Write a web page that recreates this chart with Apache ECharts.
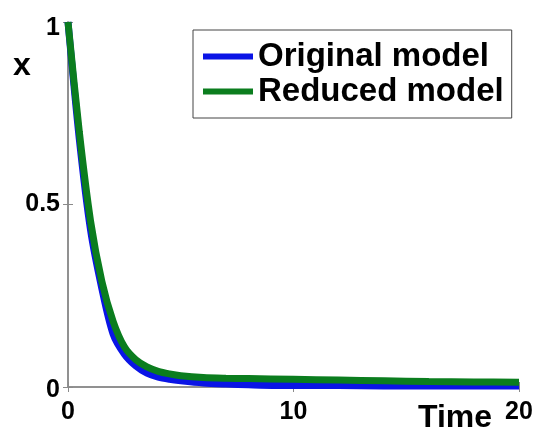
<!DOCTYPE html>
<html>
<head>
<meta charset="utf-8">
<script src="https://cdn.jsdelivr.net/npm/echarts@6/dist/echarts.min.js"></script>
<style>
  html, body { margin: 0; padding: 0; background: #fff; }
  #chart { width: 540px; height: 434px; }
</style>
</head>
<body>
<div id="chart"></div>
<script>
// x(t) 衰减曲线 - 原模型 vs 降阶模型

const time =      [0, 0.5, 1, 1.5, 2, 2.5, 3, 3.5, 4, 4.5, 5, 6, 7, 8, 10, 12, 14, 16, 18, 20];
const originalX = [1.0, 0.68, 0.43, 0.27, 0.145, 0.09, 0.058, 0.038, 0.027, 0.021, 0.017, 0.011, 0.008, 0.006, 0.004, 0.004, 0.003, 0.003, 0.003, 0.003];
const reducedX =  [1.0, 0.70, 0.455, 0.29, 0.18, 0.11, 0.075, 0.055, 0.043, 0.036, 0.031, 0.026, 0.024, 0.023, 0.021, 0.019, 0.017, 0.015, 0.014, 0.013];
const xTicks = [0, 10, 20];
const yTicks = [0, 0.5, 1];

const FONT = 'Liberation Sans, Arial, sans-serif';
const AXIS_GRAY = '#8a8a8a';

const chart = echarts.init(document.getElementById('chart'));

const pairs = arr => time.map((t, i) => [t, arr[i]]);

const tickText = { color: '#000', fontFamily: FONT, fontWeight: 'bold', fontSize: 25 };

chart.setOption({
  animation: false,
  grid: { left: 68, top: 22, right: 21, bottom: 42, show: false },
  legend: {
    orient: 'vertical',
    left: 193, top: 30,
    icon: 'rect',
    itemWidth: 50, itemHeight: 6,
    itemGap: 2,
    padding: [10, 8, 10, 10],
    borderColor: '#444', borderWidth: 1,
    backgroundColor: '#fff',
    textStyle: { color: '#000', fontFamily: FONT, fontWeight: 'bold', fontSize: 33 },
    data: ['Original model', 'Reduced model'],
  },
  xAxis: [
    {
      type: 'value', min: 0, max: 20, interval: 10,
      name: 'Time', nameLocation: 'end', nameGap: -101,
      nameTextStyle: { color: '#000', fontFamily: FONT, fontWeight: 'bold', fontSize: 32, align: 'left', verticalAlign: 'top', padding: [15, 0, 0, 0] },
      axisLine: { lineStyle: { color: AXIS_GRAY, width: 1.5 } },
      axisTick: { inside: true, length: 5, lineStyle: { color: AXIS_GRAY } },
      axisLabel: { ...tickText, margin: 13, formatter: v => xTicks.includes(v) ? String(v) : '' },
      splitLine: { show: false },
    },
    {
      type: 'value', min: 0, max: 20, interval: 10, position: 'top',
      axisLine: { show: true, lineStyle: { color: AXIS_GRAY, width: 1.5 } },
      axisTick: { inside: true, length: 5, lineStyle: { color: AXIS_GRAY } },
      axisLabel: { show: false },
      splitLine: { show: false },
    },
  ],
  yAxis: [
    {
      type: 'value', min: 0, max: 1, interval: 0.5,
      name: 'x', nameLocation: 'end', nameGap: -60,
      nameTextStyle: { color: '#000', fontFamily: FONT, fontWeight: 'bold', fontSize: 32, align: 'center', padding: [0, 92, 0, 0] },
      axisLine: { show: true, lineStyle: { color: AXIS_GRAY, width: 1.5 } },
      axisTick: { show: true, inside: true, length: 5, lineStyle: { color: AXIS_GRAY } },
      axisLabel: {
        margin: 8,
        verticalAlignMinLabel: 'top',
        // 顶端和底端标签略向下偏
        formatter: v => {
          if (!yTicks.includes(v)) return '';
          if (v === 1) return '{top|1}';
          if (v === 0) return '{bot|0}';
          return '{mid|' + v + '}';
        },
        rich: {
          top: { ...tickText, padding: [12, 0, 0, 0] },
          bot: { ...tickText, lineHeight: 6 },
          mid: { ...tickText },
        },
      },
      splitLine: { show: false },
    },
    {
      type: 'value', min: 0, max: 1, interval: 0.5, position: 'right',
      axisLine: { show: true, lineStyle: { color: AXIS_GRAY, width: 1.5 } },
      axisTick: { show: true, inside: true, length: 5, lineStyle: { color: AXIS_GRAY } },
      axisLabel: { show: false },
      splitLine: { show: false },
    },
  ],
  series: [
    {
      name: 'Original model', type: 'line', smooth: 0.3, symbol: 'none',
      data: pairs(originalX),
      lineStyle: { color: '#0a14e6', width: 7 },
      itemStyle: { color: '#0a14e6' },
    },
    {
      name: 'Reduced model', type: 'line', smooth: 0.3, symbol: 'none',
      data: pairs(reducedX),
      lineStyle: { color: '#0b7d1e', width: 7 },
      itemStyle: { color: '#0b7d1e' },
    },
  ],
});
</script>
</body>
</html>
